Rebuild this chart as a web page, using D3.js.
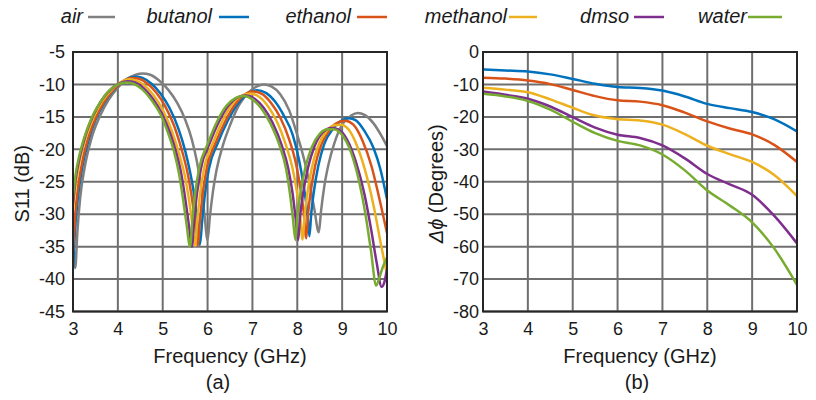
<!DOCTYPE html>
<html>
<head>
<meta charset="utf-8">
<script src="https://cdn.jsdelivr.net/npm/d3@7"></script>
<style>
  html, body { margin: 0; padding: 0; background: #fff; }
  svg { display: block; font-family: "Liberation Sans", Arial, sans-serif; }
</style>
</head>
<body>
<svg id="chart" width="816" height="400"></svg>
<script>
// ---------- DATA ----------
const seriesNames = ["air", "butanol", "ethanol", "methanol", "dmso", "water"];
const seriesColors = ["#808080", "#0072BD", "#D95319", "#EDB120", "#7E2F8E", "#77AC30"];

const freqTicks = [3, 4, 5, 6, 7, 8, 9, 10];
const s11Ticks = [-5, -10, -15, -20, -25, -30, -35, -40, -45];
const phaseTicks = [0, -10, -20, -30, -40, -50, -60, -70, -80];

// (a) S11 (dB) : [frequency GHz, dB]
const s11Air = [[3.0,-33],[3.05,-38.3],[3.1,-32.5],[3.16,-27.5],[3.26,-22.8],[3.4,-18.6],[3.6,-14.9],[3.8,-12.3],[4.0,-10.5],[4.2,-9.2],[4.4,-8.5],[4.55,-8.3],[4.72,-8.5],[4.92,-9.4],[5.12,-10.8],[5.32,-12.8],[5.5,-15.4],[5.65,-18.5],[5.76,-21.8],[5.85,-25.5],[5.93,-30],[6.0,-34],[6.05,-30.5],[6.12,-26.5],[6.2,-23.2],[6.35,-19.2],[6.5,-16.3],[6.7,-13.2],[6.9,-11.3],[7.1,-10.3],[7.25,-10.0],[7.42,-10.3],[7.62,-11.5],[7.82,-14],[8.0,-17.8],[8.15,-21.5],[8.28,-25.5],[8.38,-29.2],[8.48,-32.8],[8.53,-29.5],[8.6,-25.8],[8.7,-22.2],[8.82,-19.2],[9.0,-16.2],[9.2,-14.8],[9.35,-14.4],[9.5,-14.7],[9.7,-16.0],[9.85,-17.6],[10.0,-19.5]];
const s11Butanol = [[3.0,-38.5],[3.04,-33],[3.1,-28],[3.2,-23],[3.35,-18.5],[3.5,-15.5],[3.7,-12.8],[3.9,-10.9],[4.1,-9.6],[4.3,-8.9],[4.4,-8.8],[4.55,-9.0],[4.75,-9.9],[4.95,-11.4],[5.15,-13.6],[5.35,-16.8],[5.5,-20.2],[5.61,-23.5],[5.7,-27],[5.77,-31],[5.83,-34.7],[5.88,-31],[5.94,-27],[6.03,-23],[6.23,-19],[6.45,-15.6],[6.65,-13.2],[6.85,-11.7],[7.1,-10.9],[7.3,-11.3],[7.5,-12.6],[7.7,-14.8],[7.9,-17.8],[8.05,-22],[8.15,-26],[8.22,-29.5],[8.27,-33.4],[8.31,-30],[8.37,-26.5],[8.47,-22.5],[8.6,-19.2],[8.8,-16.8],[9.0,-15.5],[9.15,-15.2],[9.3,-15.5],[9.5,-17.2],[9.7,-19.8],[9.85,-23],[10.0,-27.7]];
const s11Ethanol = [[3.0,-35.7],[3.05,-30],[3.12,-25.5],[3.22,-21.5],[3.35,-18],[3.5,-15.2],[3.7,-12.6],[3.9,-10.8],[4.1,-9.6],[4.3,-9.0],[4.45,-9.1],[4.65,-9.8],[4.85,-11.2],[5.05,-13.3],[5.25,-16.3],[5.42,-20],[5.55,-23.5],[5.64,-27],[5.72,-31],[5.78,-34.8],[5.83,-31],[5.89,-27],[5.98,-23],[6.18,-19],[6.4,-15.6],[6.6,-13.2],[6.8,-11.7],[7.02,-11.1],[7.22,-11.5],[7.42,-12.9],[7.62,-15.1],[7.82,-18.5],[7.97,-22.2],[8.07,-26],[8.14,-29.5],[8.2,-33.7],[8.24,-30],[8.3,-26.5],[8.4,-22.5],[8.53,-19.4],[8.73,-16.9],[8.92,-15.8],[9.07,-15.6],[9.25,-16.2],[9.45,-18.6],[9.65,-22.5],[9.82,-27.3],[10.0,-32.9]];
const s11Methanol = [[3.0,-29.5],[3.06,-25.5],[3.15,-21.8],[3.28,-18.3],[3.45,-15.2],[3.65,-12.6],[3.85,-10.9],[4.05,-9.7],[4.25,-9.2],[4.4,-9.4],[4.6,-10.2],[4.8,-11.7],[5.0,-13.9],[5.2,-17.1],[5.36,-20.6],[5.49,-24],[5.58,-27.5],[5.66,-31.5],[5.72,-34.9],[5.77,-31],[5.83,-27],[5.92,-23],[6.12,-19],[6.34,-15.5],[6.54,-13.1],[6.74,-11.8],[6.95,-11.4],[7.15,-11.9],[7.35,-13.4],[7.55,-15.8],[7.74,-19.2],[7.89,-22.8],[7.99,-26.5],[8.06,-30],[8.12,-33.9],[8.16,-30.5],[8.22,-27],[8.32,-23],[8.45,-19.8],[8.65,-17.2],[8.83,-16.3],[8.98,-16.2],[9.15,-17.0],[9.35,-19.8],[9.55,-24.2],[9.72,-29.3],[9.86,-34.5],[10.0,-39.3]];
const s11Dmso = [[3.0,-28.2],[3.06,-24.5],[3.15,-21.2],[3.28,-17.8],[3.45,-14.8],[3.65,-12.3],[3.85,-10.7],[4.05,-9.8],[4.22,-9.5],[4.38,-9.7],[4.58,-10.6],[4.78,-12.2],[4.98,-14.5],[5.17,-17.6],[5.3,-20.5],[5.42,-24],[5.5,-27.5],[5.58,-31.5],[5.65,-35.0],[5.7,-31],[5.76,-27],[5.85,-23],[6.05,-19],[6.27,-15.5],[6.47,-13.2],[6.67,-12.0],[6.85,-11.7],[7.05,-12.2],[7.25,-13.6],[7.45,-15.9],[7.65,-19.3],[7.8,-23],[7.9,-27],[7.96,-30.5],[8.02,-34.0],[8.06,-30.5],[8.13,-26.8],[8.24,-22.8],[8.38,-19.6],[8.58,-17.3],[8.76,-16.7],[8.9,-16.9],[9.1,-18.4],[9.3,-21.8],[9.5,-27],[9.65,-32.5],[9.77,-37.5],[9.88,-41.2],[9.94,-40.5],[10.0,-38.5]];
const s11Water = [[3.0,-27.4],[3.06,-23.8],[3.14,-21.0],[3.25,-18.2],[3.4,-15.4],[3.6,-12.8],[3.8,-11.0],[4.0,-10.0],[4.2,-9.7],[4.35,-9.9],[4.55,-10.8],[4.75,-12.4],[4.95,-14.6],[5.12,-17.5],[5.25,-20.3],[5.37,-24],[5.45,-27.5],[5.53,-31.5],[5.61,-35.0],[5.66,-31],[5.72,-27],[5.81,-23],[6.0,-19.2],[6.22,-15.6],[6.42,-13.3],[6.62,-12.1],[6.8,-11.8],[7.0,-12.3],[7.2,-13.7],[7.4,-16.0],[7.6,-19.3],[7.75,-23],[7.84,-27],[7.9,-30.5],[7.96,-34.0],[8.0,-30.5],[8.07,-26.8],[8.18,-22.8],[8.32,-19.7],[8.5,-17.6],[8.68,-16.9],[8.8,-16.9],[9.0,-17.8],[9.2,-20.5],[9.38,-25],[9.52,-30],[9.64,-35.5],[9.76,-41.0],[9.82,-40],[9.9,-38.3],[10.0,-36.7]];

// (b) phase difference (degrees) sampled at these frequencies
const phaseFreq = [3, 3.5, 4, 4.5, 5, 5.5, 6, 6.5, 7, 7.5, 8, 8.5, 9, 9.5, 10];
const phaseButanol = [-5.4,-5.7,-6.0,-6.9,-8.3,-9.8,-10.8,-11.1,-11.9,-13.7,-16.0,-17.3,-18.5,-20.8,-24.5];
const phaseEthanol = [-7.9,-8.2,-8.8,-9.9,-11.7,-13.6,-14.9,-15.3,-16.4,-18.7,-21.4,-23.6,-25.4,-28.7,-33.9];
const phaseMethanol = [-11.0,-11.6,-12.4,-14.6,-17.2,-19.6,-20.7,-21.1,-22.4,-25.3,-28.9,-31.5,-33.9,-38.0,-44.4];
const phaseDmso = [-12.2,-13.2,-14.4,-16.8,-20.1,-23.3,-25.5,-26.5,-28.8,-32.8,-37.6,-40.8,-44.0,-50.6,-59.0];
const phaseWater = [-12.9,-13.7,-15.1,-17.8,-21.5,-25.0,-27.4,-28.8,-31.6,-36.5,-42.7,-47.3,-52.5,-60.7,-71.8];

// ---------- LAYOUT ----------
const svg = d3.select("#chart");
const TOP = 52, BOTTOM = 311.5;
const gridColor = "#6f6f6f", frameColor = "#262626", textColor = "#1a1a1a";

function drawPanel(opts) {
  const { x0, x1, yDomain, yTicks, series, clipId, yLabelX, yTickEnd, yTitle, panelLabel, panelLabelX } = opts;
  const x = d3.scaleLinear().domain([3, 10]).range([x0, x1]);
  const y = d3.scaleLinear().domain(yDomain).range([BOTTOM, TOP]);
  const g = svg.append("g");

  svg.append("clipPath").attr("id", clipId)
    .append("rect").attr("x", x0).attr("y", TOP).attr("width", x1 - x0).attr("height", BOTTOM - TOP);

  // grid
  g.append("g").selectAll("line").data(freqTicks).join("line")
    .attr("x1", d => x(d)).attr("x2", d => x(d)).attr("y1", TOP).attr("y2", BOTTOM)
    .attr("stroke", gridColor).attr("stroke-width", 2);
  g.append("g").selectAll("line").data(yTicks).join("line")
    .attr("x1", x0).attr("x2", x1).attr("y1", d => y(d)).attr("y2", d => y(d))
    .attr("stroke", gridColor).attr("stroke-width", 2);

  // axes (labels via d3 axes)
  const xAxis = d3.axisBottom(x).tickValues(freqTicks).tickSize(0).tickPadding(11).tickFormat(d3.format("d"));
  const gx = g.append("g").attr("transform", `translate(0,${BOTTOM})`).call(xAxis);
  gx.select(".domain").remove();
  gx.selectAll("text").attr("font-size", 18).attr("fill", textColor)
    .attr("font-family", "'Liberation Sans', Arial, sans-serif");

  const yAxis = d3.axisLeft(y).tickValues(yTicks).tickSize(0).tickPadding(x0 - yTickEnd).tickFormat(d3.format("d"));
  const gy = g.append("g").attr("transform", `translate(${x0},0)`).call(yAxis);
  gy.select(".domain").remove();
  gy.selectAll("text").attr("font-size", 18).attr("fill", textColor)
    .attr("font-family", "'Liberation Sans', Arial, sans-serif")
    .text(d => d < 0 ? "-" + Math.abs(d) : d);

  // curves
  const line = d3.line().x(d => x(d[0])).y(d => y(d[1])).curve(d3.curveMonotoneX);
  g.append("g").attr("clip-path", `url(#${clipId})`)
    .selectAll("path").data(series).join("path")
    .attr("d", s => line(s.values))
    .attr("fill", "none").attr("stroke", s => s.color).attr("stroke-width", 2.5)
    .attr("stroke-linejoin", "round");

  // frame
  g.append("rect").attr("x", x0).attr("y", TOP).attr("width", x1 - x0).attr("height", BOTTOM - TOP)
    .attr("fill", "none").attr("stroke", frameColor).attr("stroke-width", 2);

  // titles
  g.append("text").attr("x", (x0 + x1) / 2).attr("y", 363).attr("text-anchor", "middle")
    .attr("font-size", 20).attr("fill", textColor).text("Frequency (GHz)");
  g.append("text").attr("x", panelLabelX).attr("y", 389).attr("text-anchor", "middle")
    .attr("font-size", 20).attr("fill", textColor).text(panelLabel);
  const yt = g.append("text").attr("transform", `translate(${yLabelX},${(TOP + BOTTOM) / 2 + 2}) rotate(-90)`)
    .attr("text-anchor", "middle").attr("font-size", 20).attr("fill", textColor);
  yTitle(yt);
}

const s11Series = [s11Air, s11Butanol, s11Ethanol, s11Methanol, s11Dmso, s11Water]
  .map((v, i) => ({ name: seriesNames[i], color: seriesColors[i], values: v }));
const phaseSeries = [null, phaseButanol, phaseEthanol, phaseMethanol, phaseDmso, phaseWater]
  .map((v, i) => v ? { name: seriesNames[i], color: seriesColors[i], values: phaseFreq.map((f, j) => [f, v[j]]) } : null)
  .filter(d => d);

drawPanel({
  x0: 73, x1: 387, yDomain: [-45, -5], yTicks: s11Ticks, series: s11Series, clipId: "clipA",
  yLabelX: 29, yTickEnd: 65, panelLabel: "(a)", panelLabelX: 218,
  yTitle: t => t.text("S11 (dB)")
});
drawPanel({
  x0: 483, x1: 797, yDomain: [-80, 0], yTicks: phaseTicks, series: phaseSeries, clipId: "clipB",
  yLabelX: 443, yTickEnd: 479, panelLabel: "(b)", panelLabelX: 637,
  yTitle: t => {
    t.append("tspan").attr("font-style", "italic").text("Δϕ");
    t.append("tspan").text(" (Degrees)");
  }
});

// legend
const legendTextEnd = [83, 212, 351, 507, 629, 747];
const legendLine = [[88, 115], [219, 249], [357, 387], [509, 537], [634, 664], [748, 782]];
const lg = svg.append("g");
seriesNames.forEach((name, i) => {
  lg.append("text").attr("x", legendTextEnd[i]).attr("y", 23).attr("text-anchor", "end")
    .attr("font-size", 20).attr("font-style", "italic").attr("fill", textColor).text(name);
  lg.append("line").attr("x1", legendLine[i][0]).attr("x2", legendLine[i][1])
    .attr("y1", 17).attr("y2", 17).attr("stroke", seriesColors[i]).attr("stroke-width", 2.5);
});
</script>
</body>
</html>
